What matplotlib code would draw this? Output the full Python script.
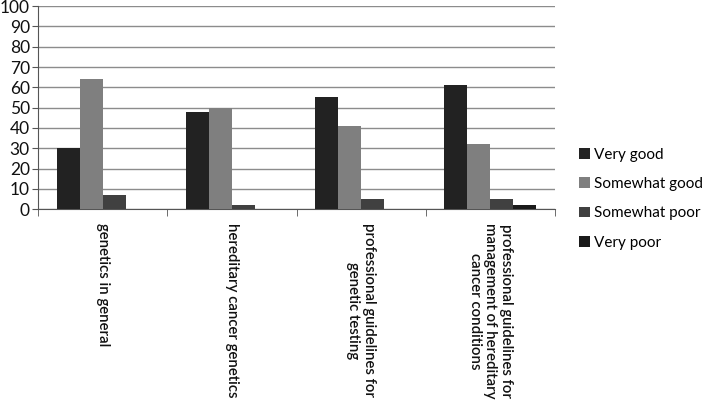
import numpy as np
import matplotlib.pyplot as plt

plt.rcParams['font.family'] = ['Lato', 'DejaVu Sans']

categories = ['genetics in general',
              'hereditary cancer genetics',
              'professional guidelines for\ngenetic testing',
              'professional guidelines for\nmanagement of hereditary\ncancer conditions']
series_names = ['Very good', 'Somewhat good', 'Somewhat poor', 'Very poor']
very_good = [30, 48, 55, 61]
somewhat_good = [64, 50, 41, 32]
somewhat_poor = [7, 2, 5, 5]
very_poor = [0, 0, 0, 2]
y_ticks = [0, 10, 20, 30, 40, 50, 60, 70, 80, 90, 100]

colors = ['#222222', '#7f7f7f', '#404040', '#1a1a1a']

fig = plt.figure(figsize=(7.08, 4.07), dpi=100, facecolor='white')
ax = fig.add_axes([0.054, 0.486, 0.73, 0.499])

x = np.arange(len(categories))
w = 0.178
for i, vals in enumerate([very_good, somewhat_good, somewhat_poor, very_poor]):
    ax.bar(x + (i - 1.5) * w, vals, width=w, color=colors[i],
           label=series_names[i], zorder=3)

ax.set_xlim(-0.5, len(categories) - 0.5)
ax.set_ylim(0, 100)
ax.set_yticks(y_ticks)
ax.yaxis.grid(True, color='#8c8c8c', linewidth=1)
ax.set_axisbelow(True)
for s in ['top', 'right']:
    ax.spines[s].set_visible(False)
ax.spines['left'].set_color('#555555')
ax.spines['bottom'].set_color('#555555')

ax.set_xticks(x)
ax.set_xticklabels(categories, rotation=270, ha='center', va='top',
                   multialignment='center', fontsize=10.8, color='#111111',
                   fontweight='semibold', linespacing=1.15)
ax.tick_params(axis='x', length=0, pad=10)
ax.set_xticks(np.arange(len(categories) + 1) - 0.5, minor=True)
ax.tick_params(axis='x', which='minor', length=5, color='#555555')
ax.tick_params(axis='y', length=4, color='#555555', labelsize=12.5,
               labelcolor='#111111', pad=2)

fig.legend(loc='center left', bbox_to_anchor=(0.818, 0.512), frameon=False,
           fontsize=11, handlelength=0.7, handleheight=0.7, handletextpad=0.3,
           labelspacing=1.0, borderpad=0, borderaxespad=0)

fig.savefig('out.png', dpi=100, facecolor='white')
